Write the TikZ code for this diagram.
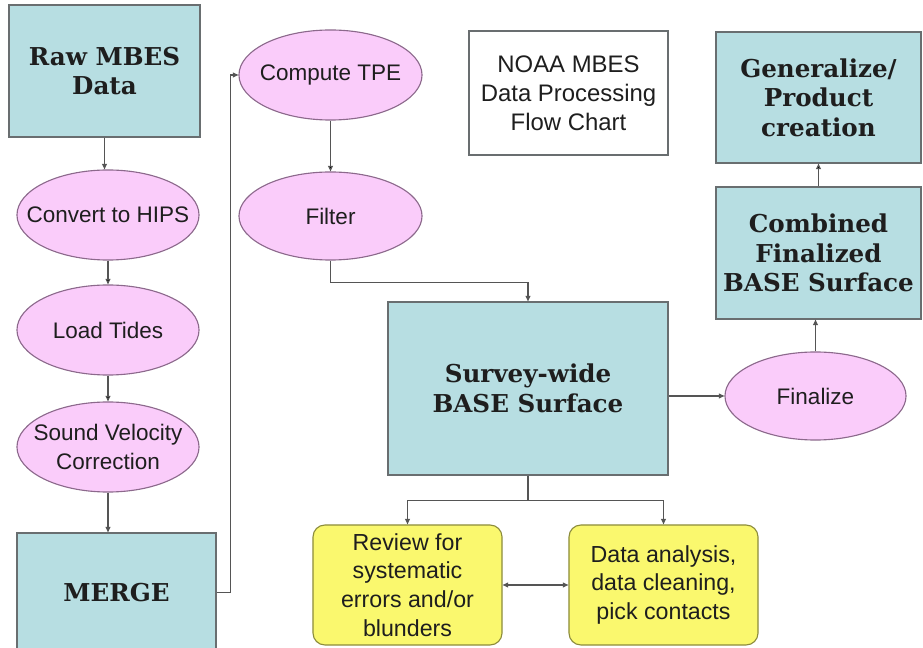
\documentclass[tikz,border=0pt]{standalone}
\usepackage{fontspec}
\setmainfont{Liberation Sans}
\newfontfamily\slabfont{DejaVu Serif}
\usepackage{tikz}
\usetikzlibrary{positioning, arrows.meta, shapes}

\definecolor{boxteal}{RGB}{183,222,226}
\definecolor{boxline}{RGB}{105,110,112}
\definecolor{ovalpink}{RGB}{250,204,250}
\definecolor{ovalline}{RGB}{140,105,140}
\definecolor{noteyellow}{RGB}{250,248,110}
\definecolor{noteline}{RGB}{140,140,60}
\definecolor{linegray}{RGB}{85,85,85}
\definecolor{txtgray}{RGB}{30,30,30}

\begin{document}
\begin{tikzpicture} [x = 0.025cm, y = -0.025cm,
			every node/.style = {align = center, text = txtgray},
			stagebox/.style = {rectangle, draw = boxline, fill = boxteal,
				line width = 0.8pt,
				font = \slabfont\bfseries\fontsize{17.5}{21}\selectfont
			},
			taskoval/.style = {ellipse, draw = ovalline, fill = ovalpink,
				inner xsep = -30pt, inner ysep = -12pt, line width = 0.8pt,
				font = \fontsize{16}{20.5}\selectfont
			},
			notebox/.style = {rectangle, rounded corners = 0.3cm,
				draw = noteline, fill = noteyellow, line width = 0.8pt,
				font = \fontsize{16.5}{20.5}\selectfont
			},
			titlebox/.style = {rectangle, draw = boxline, line width = 0.8pt,
				font = \fontsize{17}{20.5}\selectfont
			},
			link/.style = {draw = linegray, line width = 0.8pt,
				-{Triangle[length = 4pt, width = 3.5pt]}
			}
			]
			\useasboundingbox (0,0) rectangle (923,648);
			% Boxes
			\node (raw) [stagebox, minimum width = 4.775cm, minimum height = 3.3cm] at (104.5,71) {Raw MBES\\Data};
			\node (merge) [stagebox, minimum width = 4.975cm, minimum height = 2.975cm] at (116.5,592.5) {MERGE};
			\node (survey) [stagebox, minimum width = 7cm, minimum height = 4.325cm] at (528,388.5) {Survey-wide\\BASE Surface};
			\node (combined) [stagebox, minimum width = 5.125cm, minimum height = 3.3cm] at (818.5,253) {Combined\\Finalized\\BASE Surface};
			\node (general) [stagebox, minimum width = 5.125cm, minimum height = 3.275cm] at (818.5,97.5) {Generalize/\\Product\\creation};
			\node (title) [titlebox, minimum width = 4.975cm, minimum height = 3.1cm] at (568.5,93) {NOAA MBES\\Data Processing\\Flow Chart};
			% Steps
			\node (convert) [taskoval, minimum width = 4.55cm, minimum height = 2.25cm] at (108,215) {Convert to HIPS};
			\node (tides) [taskoval, minimum width = 4.55cm, minimum height = 2.25cm] at (108,330) {Load Tides};
			\node (sound) [taskoval, minimum width = 4.55cm, minimum height = 2.25cm] at (108,447) {Sound Velocity\\Correction};
			\node (compute) [taskoval, minimum width = 4.575cm, minimum height = 2.25cm] at (330.5,75) {Compute TPE};
			\node (filter) [taskoval, minimum width = 4.575cm, minimum height = 2.2cm] at (330.5,216) {Filter};
			\node (finalize) [taskoval, minimum width = 4.525cm, minimum height = 2.2cm] at (815.5,396) {Finalize};
			% Checks
			\node (review) [notebox, minimum width = 4.725cm, minimum height = 3cm] at (407.5,585) {Review for\\systematic\\errors and/or\\blunders};
			\node (analysis) [notebox, minimum width = 4.725cm, minimum height = 3cm] at (663.5,585) {Data analysis,\\data cleaning,\\pick contacts};
			% Connectors
			\path [link]
			(convert) edge (tides)
			(tides) edge (sound)
			(compute) edge (filter)
			(combined) edge (general);
			\draw [link] (raw.south) -- (raw.south |- convert.north);
			\draw [link] (finalize.north) -- (finalize.north |- combined.south);
			\draw [link] (sound.south) -- (sound.south |- merge.north);
			\draw [link] (merge.east) -- ++(14,0) |- (compute.west);
			\draw [link] (filter.south) -- ++(0,22) -| (survey.north);
			\draw [link] (survey.east |- finalize.west) -- (finalize.west);
			\draw [draw = linegray, line width = 0.8pt] (survey.south) -- ++(0,25) coordinate (split);
			\draw [link] (split) -| (review.north);
			\draw [link] (split) -| (analysis.north);
			\draw [link, {Triangle[length = 4pt, width = 3.5pt]}-{Triangle[length = 4pt, width = 3.5pt]}] (review.east) -- (analysis.west);
		\end{tikzpicture}
\end{document}
